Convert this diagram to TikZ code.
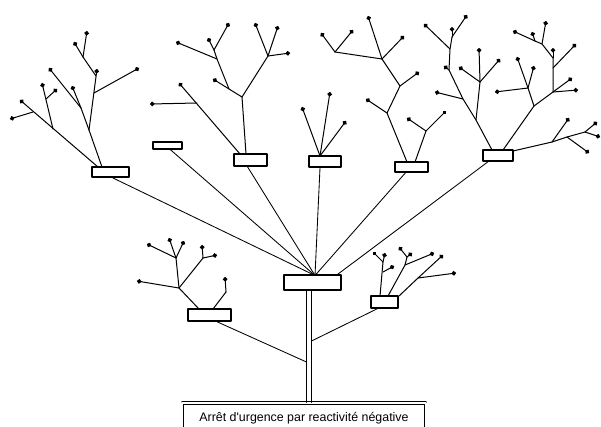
\documentclass[tikz,border=0pt]{standalone}
\usepackage{fontspec}
\setmainfont{Liberation Sans}
\usetikzlibrary{calc,arrows.meta}

\tikzset{
  twig/.style={line width=1pt,-{Circle[length=4.5pt]}},
  stem/.style={line width=1pt},
  link/.style={line width=0.85pt},
  plate/.style={draw,line width=1.5pt,inner sep=0pt},
}

\begin{document}
\begin{tikzpicture}[x=1pt,y=-1pt,line cap=round,line join=round]
\useasboundingbox (0,0) rectangle (601,426);

% plates: name/x/y/width/height
\foreach \n/\x/\y/\w/\h in {
    l1/110.5/172/37/10, l2/167.5/145.5/29/7, l3/250.5/160/33/12,
    m/325/161.5/32/11, r1/411.5/167/33/10, r2/498/155.5/30/11,
    c/312.5/282.5/57/15, lb/209.5/315/43/12, rb/384.5/302/27/12%
}{
  \node[plate,minimum width=\w pt,minimum height=\h pt] (\n) at (\x,\y) {};
}

% base frame and its label
\node[draw,double,double distance=1.8pt,line width=0.8pt,minimum width=243.5pt,
      minimum height=40pt,anchor=north] (base) at (304,402.5) {};
\node[anchor=base,font=\fontsize{12.4}{14}\selectfont] (label) at (304,421)
  {Arrêt d\textquotesingle urgence par reactivité négative};

% trunk
\draw[link] ([xshift=-6pt]c.south) -- ([xshift=-6pt]c.south |- base.north);
\draw[link] ([xshift=-1pt]c.south) -- ([xshift=-1pt]c.south |- base.north);
\coordinate (j1) at (311.5,341);
\coordinate (j2) at (306.5,362);
\draw[link] (j1) -- ([xshift=7pt]rb.south west);
\draw[link] ([xshift=7.5pt]lb.south) -- (j2);

% upper plates down to the centre
\coordinate (hub) at (315,275.5);
\draw[link] ([xshift=2pt]l1.south) -- (hub);
\draw[link] ([xshift=3pt]l2.south) -- (hub);
\draw[link] ([xshift=-3pt]l3.south) -- (hub);
\draw[link] ([xshift=-5pt]m.south) -- (hub);
\draw[link] ([xshift=-6pt]r1.south) -- (hub);
\draw[link] ([xshift=-10pt]r2.south) -- ([xshift=-4pt]c.north east);

% inner branches
\draw[stem] (102,167) -- (89,130) -- (81,108);
\draw[stem] (96,76) -- (83,57);
\draw[stem] (246,154) -- (242,97) -- (229,89) -- (217,59) -- (214,50);
\draw[stem] (242,97) -- (268,56);
\draw[stem] (407,162) -- (387,113) -- (400,86) -- (382,59) -- (335,52);
\draw[stem] (415,162) -- (426,131);
\draw[stem] (492,150) -- (476,120) -- (480,82);
\draw[stem] (476,120) -- (463,99) -- (449,70) -- (450,49) -- (452,37);
\draw[stem] (503,150) -- (534,106) -- (528,88);
\draw[stem] (534,106) -- (553,92) -- (553,58) -- (542,44) -- (535,41);
\draw[stem] (513,151) -- (552,142) -- (567,137) -- (585,132);
\draw[stem] (199,309) -- (179,288) -- (176,258);
\draw[stem] (179,288) -- (203,258);
\draw[stem] (213,309) -- (226,292);
\draw[stem] (380,296) -- (383,262);
\draw[stem] (388,296) -- (405,265) -- (407,257);
\draw[stem] (399,296) -- (418,278);

% end twigs with their dots
\foreach \xa/\ya/\xb/\yb in {
    98/167/20/100, 33/112/10/119, 53/129/42/83, 46/99/57/89, 81/108/49/68,
    81/108/72/86, 89/130/97/69, 94/93/139/68, 83/57/74/42, 83/57/87/31,
    229/89/213/79, 217/59/176/42, 214/50/208/38, 214/50/229/23, 268/56/255/23,
    268/56/278/26, 268/56/290/53, 240/154/179/83, 197/103/150/104,
    320/156/302/107, 320/156/330/92, 320/156/346/121,
    387/113/366/99, 400/86/419/72, 382/59/368/16, 382/59/404/36, 335/52/321/33,
    335/52/353/30, 426/131/407/118, 426/131/446/111,
    480/82/479/48, 480/82/500/59, 480/82/459/67, 463/99/435/92, 449/70/444/66,
    450/49/424/24, 452/37/452/27, 452/37/467/15, 528/88/517/57, 528/88/534/66,
    528/88/495/92, 553/92/572/78, 553/92/578/90, 553/68/576/44, 553/58/553/48,
    542/44/546/21, 535/41/532/32, 535/41/513/31, 552/142/569/118,
    567/137/589/153, 585/132/597/122, 585/132/600/137,
    179/288/137/281, 176/258/147/244, 176/258/169/238, 176/258/184/241,
    203/258/202/245, 203/258/217/255, 226/292/225/277,
    383/262/373/252, 383/262/385/253, 383/272/394/266, 407/257/399/247,
    407/257/412/253, 405/265/434/253, 418/278/443/255, 418/278/456/273%
}{
  \draw[twig] (\xa,\ya) -- (\xb,\yb);
}
\end{tikzpicture}
\end{document}
